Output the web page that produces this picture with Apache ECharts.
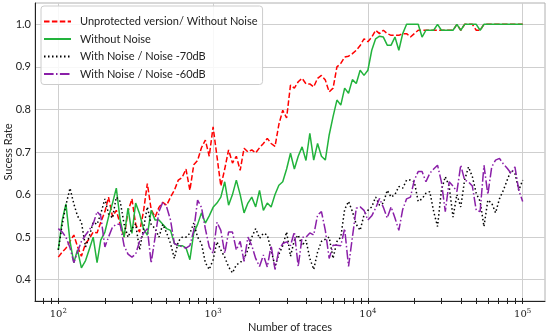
<!DOCTYPE html>
<html>
<head>
<meta charset="utf-8">
<script src="https://cdn.jsdelivr.net/npm/echarts@6/dist/echarts.min.js"></script>
<style>html,body{margin:0;padding:0;background:#fff;}#c{width:550px;height:336px;}</style>
</head>
<body>
<div id="c"></div>
<script>
// Number of traces (x positions)
const traces = [100,106,112,119,126,133,141,150,158,168,178,188,200,211,224,237,251,266,282,299,316,335,355,376,398,422,447,473,501,531,562,596,631,668,708,750,794,841,891,944,
1000,1059,1122,1189,1259,1334,1413,1496,1585,1679,1778,1884,1995,2113,2239,2371,2512,2661,2818,2985,3162,3350,3548,3758,3981,4217,4467,4732,5012,5309,5623,5957,6310,6683,7079,7499,7943,8414,8913,9441,
10000,10593,11220,11885,12589,13335,14125,14962,15849,16788,17783,18836,19953,21135,22387,23714,25119,26607,28184,29854,31623,33497,35481,37584,39811,42170,44668,47315,50119,53088,56234,59566,63096,66834,70795,74989,79433,84140,89125,94406,100000];

const unprotected = [0.453,0.465,0.474,0.49,0.505,0.478,0.455,0.485,0.495,0.512,0.51,0.535,0.56,0.594,0.548,0.563,0.53,0.5,0.56,0.59,
0.53,0.512,0.56,0.626,0.565,0.547,0.57,0.582,0.575,0.594,0.61,0.634,0.64,0.66,0.61,0.67,0.68,0.71,0.728,0.69,
0.759,0.69,0.62,0.66,0.705,0.674,0.69,0.657,0.709,0.7,0.705,0.698,0.71,0.72,0.732,0.72,0.713,0.765,0.798,0.78,
0.857,0.85,0.865,0.873,0.86,0.86,0.853,0.873,0.88,0.869,0.841,0.85,0.9,0.908,0.923,0.925,0.931,0.939,0.95,0.966,
0.959,0.97,0.986,0.978,0.986,0.978,0.974,0.974,0.974,0.978,0.978,0.97,0.978,0.986,0.986,0.986,0.986,0.986,0.986,0.986,
0.986,0.986,0.986,1.0,0.986,1.0,1.0,1.0,0.986,0.986,1.0,1.0,1.0,1.0,1.0,1.0,1.0,1.0,1.0,1.0,1.0];

const withoutNoise = [0.47,0.54,0.578,0.49,0.44,0.47,0.428,0.445,0.47,0.5,0.44,0.493,0.512,0.547,0.58,0.615,0.54,0.5,0.568,0.509,
0.58,0.555,0.52,0.505,0.563,0.54,0.54,0.53,0.52,0.516,0.485,0.48,0.48,0.475,0.447,0.51,0.53,0.557,0.533,0.55,
0.57,0.58,0.594,0.63,0.575,0.6,0.634,0.6,0.557,0.58,0.594,0.571,0.61,0.563,0.58,0.571,0.6,0.622,0.63,0.66,
0.697,0.66,0.69,0.712,0.68,0.744,0.681,0.72,0.69,0.681,0.74,0.783,0.822,0.81,0.85,0.838,0.87,0.861,0.892,0.88,
0.892,0.939,0.966,0.972,0.97,0.951,0.951,0.97,0.939,0.978,1.0,1.0,1.0,1.0,0.97,0.986,0.986,0.986,1.0,0.986,
0.986,0.986,0.986,1.0,0.986,1.0,1.0,1.0,1.0,0.986,1.0,1.0,1.0,1.0,1.0,1.0,1.0,1.0,1.0,1.0,1.0];

const noise70 = [0.47,0.53,0.575,0.615,0.578,0.55,0.535,0.477,0.5,0.535,0.53,0.555,0.59,0.555,0.545,0.594,0.584,0.531,0.5,0.52,
0.531,0.47,0.52,0.571,0.53,0.52,0.5,0.53,0.51,0.485,0.45,0.49,0.5,0.5,0.509,0.533,0.5,0.485,0.44,0.424,
0.447,0.489,0.47,0.453,0.43,0.416,0.435,0.44,0.45,0.47,0.5,0.52,0.497,0.509,0.505,0.47,0.431,0.46,0.48,0.512,
0.455,0.493,0.505,0.48,0.493,0.45,0.424,0.465,0.49,0.495,0.5,0.45,0.49,0.5,0.565,0.584,0.56,0.53,0.516,0.552,
0.563,0.571,0.594,0.575,0.58,0.61,0.594,0.6,0.619,0.615,0.634,0.634,0.63,0.584,0.59,0.603,0.607,0.56,0.525,0.61,
0.642,0.62,0.547,0.6,0.571,0.634,0.665,0.642,0.603,0.584,0.525,0.587,0.58,0.557,0.59,0.61,0.634,0.657,0.65,0.61,0.634];

const noise60 = [0.52,0.512,0.5,0.475,0.44,0.465,0.49,0.505,0.516,0.531,0.56,0.55,0.477,0.5,0.524,0.53,0.53,0.48,0.46,0.453,
0.46,0.49,0.509,0.52,0.439,0.5,0.56,0.582,0.571,0.54,0.485,0.48,0.478,0.474,0.48,0.516,0.587,0.57,0.52,0.477,
0.462,0.535,0.516,0.462,0.512,0.512,0.47,0.49,0.443,0.5,0.48,0.45,0.431,0.458,0.43,0.48,0.424,0.47,0.485,0.489,
0.48,0.512,0.431,0.5,0.5,0.51,0.505,0.552,0.56,0.516,0.45,0.481,0.481,0.48,0.52,0.431,0.5,0.568,0.571,0.563,
0.54,0.55,0.568,0.591,0.57,0.545,0.571,0.545,0.516,0.565,0.59,0.594,0.634,0.654,0.654,0.63,0.65,0.66,0.669,0.63,
0.56,0.63,0.62,0.607,0.669,0.634,0.63,0.62,0.563,0.56,0.669,0.6,0.665,0.681,0.685,0.672,0.662,0.65,0.665,0.61,0.584];

const seriesNames = ['Unprotected version/ Without Noise','Without Noise','With Noise / Noise -70dB','With Noise / Noise -60dB'];
const yTickLabels = [0.4,0.5,0.6,0.7,0.8,0.9,1.0];
const xTickValues = [80,90,100,200,300,400,500,600,700,800,900,1000,2000,3000,4000,5000,6000,7000,8000,9000,10000,20000,30000,40000,50000,60000,70000,80000,90000,100000];

const xMin = 70.7, xMax = 139400;
const pairs = v => traces.map((t, i) => [t, v[i]]);

const chart = echarts.init(document.getElementById('c'), null, {renderer: 'canvas'});
const sansFont = 'Lato';
const tickAxisBase = {
  type: 'value', min: Math.log10(xMin), max: Math.log10(xMax), position: 'bottom',
  axisLine: {show: false}, axisLabel: {show: false}, splitLine: {show: false},
};
chart.setOption({
  animation: false,
  grid: {left: 35, right: 5, top: 3, bottom: 35, outerBoundsMode: 'none', containLabel: false,
    show: true, borderColor: '#b0b0b0', borderWidth: 1, backgroundColor: 'transparent'},
  legend: {
    orient: 'vertical', left: 41, top: 6, padding: [10, 5, 5, 2], itemGap: 6.5,
    itemWidth: 27, itemHeight: 10,
    itemStyle: {opacity: 0},
    backgroundColor: 'rgba(255,255,255,0.85)', borderColor: '#cccccc', borderWidth: 1, borderRadius: 3,
    textStyle: {fontFamily: sansFont, fontSize: 11, color: '#222', padding: [0, 0, 0, 4]},
    data: seriesNames
  },
  xAxis: [
    {
      type: 'log', logBase: 10, min: xMin, max: xMax, position: 'bottom',
      name: 'Number of traces', nameLocation: 'middle', nameGap: 21, nameMoveOverlap: false,
      nameTextStyle: {fontFamily: sansFont, fontSize: 11, color: '#222'},
      axisLine: {show: true, onZero: false, lineStyle: {color: '#222', width: 1}},
      axisTick: {show: false},
      axisLabel: {
        showMinLabel: false, showMaxLabel: false, margin: 7,
        formatter: v => {
          const l = Math.log10(v), e = Math.round(l);
          if (Math.abs(l - e) > 1e-6) return '';
          return '{b|10}{s|' + e + '}';
        },
        rich: {
          b: {fontFamily: 'DejaVu Serif', fontSize: 10, color: '#222', lineHeight: 12},
          s: {fontFamily: 'DejaVu Serif', fontSize: 7, color: '#222', verticalAlign: 'top', lineHeight: 7}
        }
      },
      splitLine: {show: true, showMinLine: false, showMaxLine: false, lineStyle: {color: '#cfcfcf', width: 1}}
    },
    Object.assign({}, tickAxisBase, {
      axisTick: {show: true, inside: false, length: 3, lineStyle: {color: '#222', width: 1},
        customValues: xTickValues.map(v => Math.log10(v))}
    }),
    Object.assign({}, tickAxisBase, {
      axisTick: {show: true, inside: true, length: 3, lineStyle: {color: '#222', width: 1},
        customValues: xTickValues.map(v => Math.log10(v))}
    })
  ],
  yAxis: {
    type: 'value', min: 0.35, max: 1.05, interval: 0.05,
    name: 'Sucess Rate', nameLocation: 'middle', nameGap: 21, nameMoveOverlap: false,
    nameTextStyle: {fontFamily: sansFont, fontSize: 11, color: '#222'},
    axisLine: {show: true, lineStyle: {color: '#222', width: 1}},
    axisTick: {show: false},
    axisLabel: {
      margin: 4, fontFamily: sansFont, fontSize: 11, color: '#222',
      formatter: v => {
        const r = Math.round(v * 10) / 10;
        return yTickLabels.some(t => Math.abs(t - v) < 1e-6) ? r.toFixed(1) : '';
      }
    },
    splitLine: {show: true, lineStyle: {color: ['transparent', '#cfcfcf'], width: 1}}
  },
  series: [
    {name: seriesNames[0], type: 'line', data: pairs(unprotected), symbol: 'none', showSymbol: false,
      lineStyle: {color: '#ff0000', width: 1.5, type: [5.5, 2.4]}, itemStyle: {color: '#ff0000'}},
    {name: seriesNames[1], type: 'line', data: pairs(withoutNoise), symbol: 'none', showSymbol: false,
      lineStyle: {color: '#22b33c', width: 1.5, type: 'solid'}, itemStyle: {color: '#22b33c'}},
    {name: seriesNames[2], type: 'line', data: pairs(noise70), symbol: 'none', showSymbol: false,
      lineStyle: {color: '#000000', width: 1.5, type: [1.5, 2.5]}, itemStyle: {color: '#000000'}},
    {name: seriesNames[3], type: 'line', data: pairs(noise60), symbol: 'none', showSymbol: false,
      lineStyle: {color: '#8a1fa8', width: 1.5, type: [9.6, 2.4, 1.5, 2.4]}, itemStyle: {color: '#8a1fa8'}}
  ]
});
</script>
</body>
</html>
